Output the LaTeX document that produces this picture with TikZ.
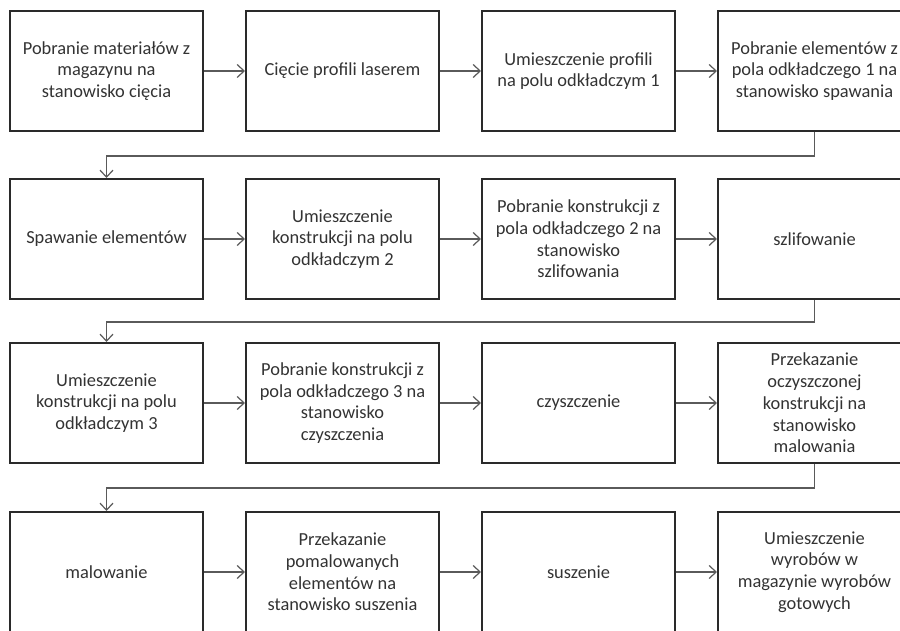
\documentclass[tikz,border=0pt]{standalone}
\usepackage{fontspec}
\setmainfont{Carlito}
\usepackage{tikz}
\usetikzlibrary{arrows.meta,positioning}

\definecolor{boxline}{HTML}{2A2A2A}
\definecolor{connline}{HTML}{5A5A5A}
\definecolor{txt}{HTML}{333333}

\tikzset{
    stage/.style={draw=boxline, line width=2pt, fill=white, text=txt,
        minimum width=193pt, minimum height=120pt, inner sep=0pt,
        align=center, font=\fontsize{18.4}{21.7}\selectfont},
    conn/.style={draw=connline, line width=1.2pt,
        -{Straight Barb[length=7pt,width=13pt,line width=1.2pt]}}
}

\begin{document}
\begin{tikzpicture}[x=1pt,y=1pt]

\useasboundingbox (0,0) rectangle (900,630);
\clip (0,0) rectangle (900,630);

% Row 1
\node[stage] (magazyn) at (106.5,559) {Pobranie materiałów z\\magazynu na\\stanowisko cięcia};
\node[stage] (ciecie) at (342.5,559) {Cięcie profili laserem};
\node[stage] (pole1) at (578.5,559) {Umieszczenie profili\\na polu odkładczym 1};
\node[stage] (spaw1) at (814.5,559) {Pobranie elementów z\\pola odkładczego 1 na\\stanowisko spawania};

% Row 2
\node[stage] (spawanie) at (106.5,391) {Spawanie elementów};
\node[stage] (pole2) at (342.5,391) {Umieszczenie\\konstrukcji na polu\\odkładczym 2};
\node[stage] (szlif1) at (578.5,391) {Pobranie konstrukcji z\\pola odkładczego 2 na\\stanowisko\\szlifowania};
\node[stage] (szlif) at (814.5,391) {szlifowanie};

% Row 3
\node[stage] (pole3) at (106.5,227) {Umieszczenie\\konstrukcji na polu\\odkładczym 3};
\node[stage] (czysc1) at (342.5,227) {Pobranie konstrukcji z\\pola odkładczego 3 na\\stanowisko\\czyszczenia};
\node[stage] (czysc) at (578.5,227) {czyszczenie};
\node[stage] (malow1) at (814.5,227) {Przekazanie\\oczyszczonej\\konstrukcji na\\stanowisko\\malowania};

% Row 4
\node[stage] (malow) at (106.5,58) {malowanie};
\node[stage] (susz1) at (342.5,58) {Przekazanie\\pomalowanych\\elementów na\\stanowisko suszenia};
\node[stage] (susz) at (578.5,58) {suszenie};
\node[stage] (gotowe) at (814.5,58) {Umieszczenie\\wyrobów w\\magazynie wyrobów\\gotowych};

% Arrows along the rows
\draw[conn] (magazyn) -- (ciecie);
\draw[conn] (ciecie) -- (pole1);
\draw[conn] (pole1) -- (spaw1);
\draw[conn] (spawanie) -- (pole2);
\draw[conn] (pole2) -- (szlif1);
\draw[conn] (szlif1) -- (szlif);
\draw[conn] (pole3) -- (czysc1);
\draw[conn] (czysc1) -- (czysc);
\draw[conn] (czysc) -- (malow1);
\draw[conn] (malow) -- (susz1);
\draw[conn] (susz1) -- (susz);
\draw[conn] (susz) -- (gotowe);

% Return lines to the next row
\draw[conn] (spaw1.south) -- ++(0,-24) -| (spawanie.north);
\draw[conn] (szlif.south) -- ++(0,-22) -| (pole3.north);
\draw[conn] (malow1.south) -- ++(0,-24) -| (malow.north);

\end{tikzpicture}
\end{document}
